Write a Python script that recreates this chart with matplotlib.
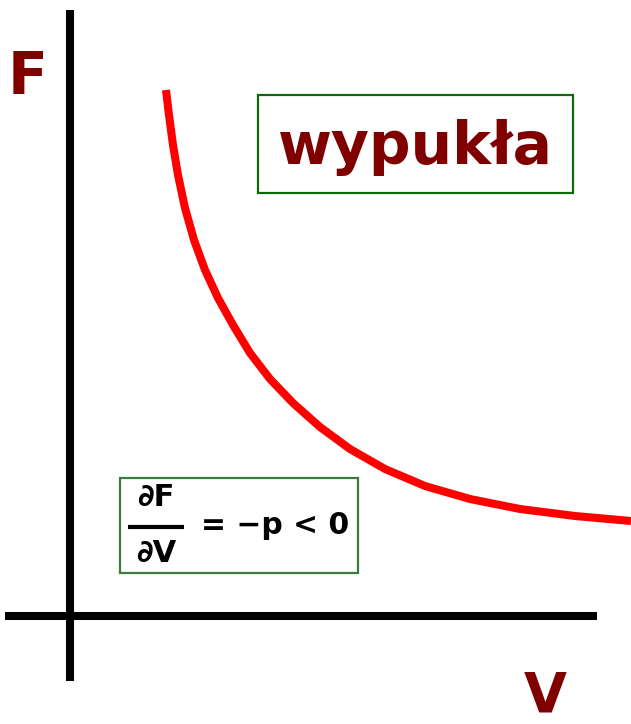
import matplotlib.pyplot as plt
from matplotlib.patches import Rectangle

# curve (pixel-like units, y grows downward)
curve_v = [166, 169, 173, 178, 185, 194, 205, 218, 233, 250, 270, 293, 320, 350, 385, 425, 470, 520, 575, 631]
curve_f = [90, 115, 145, 175, 208, 240, 270, 298, 325, 353, 379, 403, 427, 449, 469, 486, 499, 509, 516, 521]

axis_label_x = "V"
axis_label_y = "F"
title_text = "wypukła"
formula_rhs = "= \u2212p < 0"

dark_red = "#800000"

fig = plt.figure(figsize=(6.31, 7.24), dpi=100)
ax = fig.add_axes([0, 0, 1, 1])
ax.set_xlim(0, 631)
ax.set_ylim(724, 0)
ax.axis("off")

# axes of the diagram
ax.plot([5, 597], [616, 616], color="black", lw=5.8, solid_capstyle="butt")
ax.plot([70, 70], [10, 681], color="black", lw=5.8, solid_capstyle="butt")

ax.text(28, 77, axis_label_y, color=dark_red, fontsize=42, fontweight="bold",
        ha="center", va="center", family="DejaVu Sans")
ax.text(545, 696, axis_label_x, color=dark_red, fontsize=40, fontweight="bold",
        ha="center", va="center", family="DejaVu Sans")

# the convex curve
ax.plot(curve_v, curve_f, color="red", lw=5.8, solid_capstyle="butt",
        solid_joinstyle="round")

# label box
ax.add_patch(Rectangle((258, 95), 315, 98, fill=False, edgecolor="#0b6b0b", lw=1.6))
ax.text(415, 147, title_text, color=dark_red, fontsize=42, fontweight="bold",
        ha="center", va="center", family="DejaVu Sans")

# formula box
ax.add_patch(Rectangle((120, 478), 238, 95, fill=False, edgecolor="#3d7a3d", lw=1.6))
ax.text(156, 497, "\u2202F", fontsize=22, fontweight="bold", ha="center", va="center",
        family="DejaVu Sans")
ax.plot([128, 184], [527, 527], color="black", lw=3, solid_capstyle="butt")
ax.text(156, 554, "\u2202V", fontsize=22, fontweight="bold", ha="center", va="center",
        family="DejaVu Sans")
ax.text(201, 526, formula_rhs, fontsize=21.5, fontweight="bold", ha="left", va="center",
        family="DejaVu Sans")

fig.savefig("out.png", dpi=100)
